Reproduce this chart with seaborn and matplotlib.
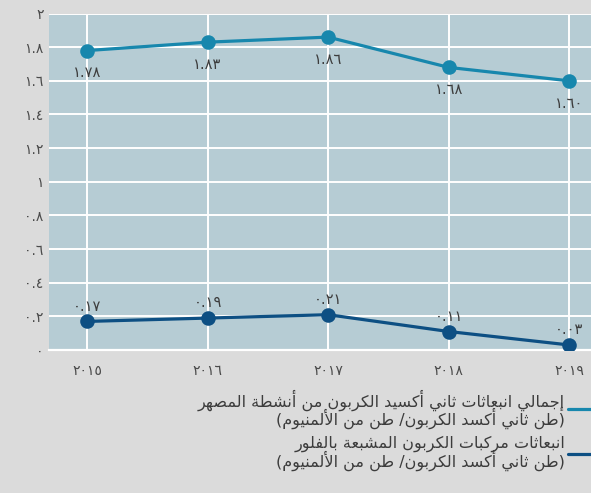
import matplotlib
matplotlib.use("Agg")
import matplotlib.pyplot as plt
import seaborn as sns
import pandas as pd
from matplotlib.lines import Line2D

# ---------------- data ----------------
years = [2015, 2016, 2017, 2018, 2019]
year_labels = ["٢٠١٥", "٢٠١٦", "٢٠١٧", "٢٠١٨", "٢٠١٩"]
smelter_co2 = [1.78, 1.83, 1.86, 1.68, 1.60]
smelter_labels = ["١.٧٨", "١.٨٣", "١.٨٦", "١.٦٨", "١.٦٠"]
pfc_co2 = [0.17, 0.19, 0.21, 0.11, 0.03]
pfc_labels = ["٠.١٧", "٠.١٩", "٠.٢١", "٠.١١", "٠.٠٣"]
y_ticks = [0, 0.2, 0.4, 0.6, 0.8, 1.0, 1.2, 1.4, 1.6, 1.8, 2.0]
y_tick_labels = ["٠", "٠.٢", "٠.٤", "٠.٦", "٠.٨", "١", "١.٢", "١.٤", "١.٦", "١.٨", "٢"]
legend_1 = "إجمالي انبعاثات ثاني أكسيد الكربون من أنشطة المصهر\n(طن ثاني أكسد الكربون/ طن من الألمنيوم)"
legend_2 = "انبعاثات مركبات الكربون المشبعة بالفلور\n(طن ثاني أكسد الكربون/ طن من الألمنيوم)"

# ------------- minimal Arabic shaping (presentation forms + visual order) -------------
FORMS = {
    'ا': ('\uFE8D', '\uFE8E', None, None),
    'أ': ('\uFE83', '\uFE84', None, None),
    'إ': ('\uFE87', '\uFE88', None, None),
    'آ': ('\uFE81', '\uFE82', None, None),
    'ب': ('\uFE8F', '\uFE90', '\uFE91', '\uFE92'),
    'ة': ('\uFE93', '\uFE94', None, None),
    'ت': ('\uFE95', '\uFE96', '\uFE97', '\uFE98'),
    'ث': ('\uFE99', '\uFE9A', '\uFE9B', '\uFE9C'),
    'ج': ('\uFE9D', '\uFE9E', '\uFE9F', '\uFEA0'),
    'ح': ('\uFEA1', '\uFEA2', '\uFEA3', '\uFEA4'),
    'خ': ('\uFEA5', '\uFEA6', '\uFEA7', '\uFEA8'),
    'د': ('\uFEA9', '\uFEAA', None, None),
    'ذ': ('\uFEAB', '\uFEAC', None, None),
    'ر': ('\uFEAD', '\uFEAE', None, None),
    'ز': ('\uFEAF', '\uFEB0', None, None),
    'س': ('\uFEB1', '\uFEB2', '\uFEB3', '\uFEB4'),
    'ش': ('\uFEB5', '\uFEB6', '\uFEB7', '\uFEB8'),
    'ص': ('\uFEB9', '\uFEBA', '\uFEBB', '\uFEBC'),
    'ض': ('\uFEBD', '\uFEBE', '\uFEBF', '\uFEC0'),
    'ط': ('\uFEC1', '\uFEC2', '\uFEC3', '\uFEC4'),
    'ظ': ('\uFEC5', '\uFEC6', '\uFEC7', '\uFEC8'),
    'ع': ('\uFEC9', '\uFECA', '\uFECB', '\uFECC'),
    'غ': ('\uFECD', '\uFECE', '\uFECF', '\uFED0'),
    'ف': ('\uFED1', '\uFED2', '\uFED3', '\uFED4'),
    'ق': ('\uFED5', '\uFED6', '\uFED7', '\uFED8'),
    'ك': ('\uFED9', '\uFEDA', '\uFEDB', '\uFEDC'),
    'ل': ('\uFEDD', '\uFEDE', '\uFEDF', '\uFEE0'),
    'م': ('\uFEE1', '\uFEE2', '\uFEE3', '\uFEE4'),
    'ن': ('\uFEE5', '\uFEE6', '\uFEE7', '\uFEE8'),
    'ه': ('\uFEE9', '\uFEEA', '\uFEEB', '\uFEEC'),
    'و': ('\uFEED', '\uFEEE', None, None),
    'ي': ('\uFEF1', '\uFEF2', '\uFEF3', '\uFEF4'),
    'ى': ('\uFEEF', '\uFEF0', None, None),
}
LAMALEF = {'ا': ('\uFEFB', '\uFEFC'), 'أ': ('\uFEF7', '\uFEF8'),
           'إ': ('\uFEF9', '\uFEFA'), 'آ': ('\uFEF5', '\uFEF6')}
MIRROR = {'(': ')', ')': '('}


def _joins_next(c):
    return c in FORMS and FORMS[c][2] is not None


def shape_line(text):
    chars = list(text)
    n = len(chars)
    res = []
    i = 0
    while i < n:
        c = chars[i]
        prev_joins = i > 0 and _joins_next(chars[i - 1])
        if c == 'ل' and i + 1 < n and chars[i + 1] in LAMALEF:
            iso, fin = LAMALEF[chars[i + 1]]
            res.append(fin if prev_joins else iso)
            i += 2
            continue
        if c not in FORMS:
            res.append(c)
            i += 1
            continue
        iso, fin, ini, med = FORMS[c]
        nxt_ar = i + 1 < n and chars[i + 1] in FORMS
        can_next = ini is not None and nxt_ar
        if prev_joins and can_next:
            res.append(med)
        elif prev_joins:
            res.append(fin)
        elif can_next:
            res.append(ini)
        else:
            res.append(iso)
        i += 1
    return ''.join(MIRROR.get(ch, ch) for ch in reversed(res))


def shape(text):
    return "\n".join(shape_line(t) for t in text.split("\n"))


# ---------------- plot ----------------
sns.set_theme(style="white")
plt.rcParams['font.family'] = ['DejaVu Sans']

c_top = "#1787ad"
c_bot = "#0d4f83"
plot_bg = "#b6ccd4"
fig_bg = "#dbdbdb"
txt = "#3c3c3c"

fig = plt.figure(figsize=(5.91, 4.93), dpi=100, facecolor=fig_bg)
ax = fig.add_axes([0.083, 0.29, 0.917, 0.6825])
ax.set_facecolor(plot_bg)

df = pd.DataFrame({"year": years, "smelter": smelter_co2, "pfc": pfc_co2})
sns.lineplot(data=df, x="year", y="smelter", ax=ax, color=c_top, lw=2.3,
             marker="o", markersize=10.5, markeredgewidth=0, zorder=3)
sns.lineplot(data=df, x="year", y="pfc", ax=ax, color=c_bot, lw=2.3,
             marker="o", markersize=10.5, markeredgewidth=0, zorder=3)

for x, y, lab in zip(years, smelter_co2, smelter_labels):
    ax.annotate(lab, (x, y), xytext=(0, -16), textcoords="offset points",
                ha="center", va="center", fontsize=10.5, color=txt)
for x, y, lab in zip(years, pfc_co2, pfc_labels):
    ax.annotate(lab, (x, y), xytext=(0, 11), textcoords="offset points",
                ha="center", va="center", fontsize=10.5, color=txt)

ax.set_xlim(2014.685, 2019.18)
ax.set_ylim(0, 2)
ax.set_xticks(years)
ax.set_xticklabels(year_labels)
ax.set_yticks(y_ticks)
ax.set_yticklabels(y_tick_labels)
ax.tick_params(axis="both", length=0, labelsize=10, colors="#4a4a4a")
ax.tick_params(axis="x", pad=10)
ax.tick_params(axis="y", pad=4)
ax.grid(True, color="white", lw=1.4)
ax.set_axisbelow(True)
ax.set_xlabel("")
ax.set_ylabel("")
for s in ["top", "left", "right"]:
    ax.spines[s].set_visible(False)
ax.spines["bottom"].set_color("white")
ax.spines["bottom"].set_linewidth(1.6)

handles = [Line2D([0], [0], color=c_top, lw=2.3),
           Line2D([0], [0], color=c_bot, lw=2.3)]
leg = fig.legend(handles, [shape(legend_1), shape(legend_2)],
                 loc="lower right", bbox_to_anchor=(1.005, 0.045),
                 borderaxespad=0, borderpad=0,
                 frameon=False, markerfirst=False, handlelength=1.65,
                 handletextpad=0.15, labelspacing=0.45, fontsize=11.5)
for t in leg.get_texts():
    t.set_multialignment("right")
    t.set_linespacing(0.82)
    t.set_color(txt)

fig.savefig("out.png", dpi=100, facecolor=fig_bg)
